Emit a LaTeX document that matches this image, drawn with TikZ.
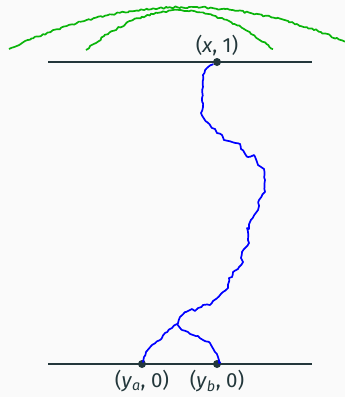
\documentclass[tikz,border=0pt]{standalone}
\usepackage{xcolor}
\usepackage{fontspec}
\setmainfont{Fira Sans}
\usepackage{tikz}
\usetikzlibrary{positioning, decorations.pathmorphing}
\definecolor{bgcol}{HTML}{FAFAFA}
\definecolor{darkteal}{HTML}{23373B}
\definecolor{pathgreen}{RGB}{10,180,10}
\definecolor{pathblue}{RGB}{0,0,255}

\tikzset{
    axisline/.style={draw=darkteal, line width=2pt},
    pt/.style={circle, fill=darkteal, inner sep=0pt, minimum size=8pt},
    ptlabel/.style={text=darkteal, font=\fontsize{20.5}{24}\selectfont, inner sep=2pt},
    walk/.style={draw=pathblue, line width=1.7pt, line join=round,
                 decorate, decoration={random steps, segment length=3pt, amplitude=0.7pt}},
    arcwalk/.style={draw=pathgreen, line width=1.7pt, line join=round,
                 decorate, decoration={random steps, segment length=2.5pt, amplitude=1pt}}
}

\begin{document}
\begin{tikzpicture}[x=1pt, y=-1pt]
    \pgfmathsetseed{11}
    \useasboundingbox[fill=bgcol] (0,0) rectangle (345,397);

    % the two levels
    \coordinate (t0) at (48,62);
    \coordinate (t1) at (312,62);
    \coordinate (b0) at (48,364);
    \coordinate (b1) at (312,364);
    \path[axisline] (t0) -- (t1);
    \path[axisline] (b0) -- (b1);

    % green arcs above
    \path[arcwalk] plot[domain=9:345, samples=15] (\x, {7+0.1356*((\x-185)/10)^2});
    \path[arcwalk] plot[domain=86:273, samples=9] (\x, {10+0.453*((\x-180)/10)^2});

    % points
    \node[pt] (top) at (217,62) {};
    \node[pt] (ya) at (142,364) {};
    \node[pt] (yb) at (217,364) {};
    \coordinate (branch) at (177,324);

    % blue paths
    \path[walk] (top) -- (207,68) -- (203,75) -- (203,87) -- (202,98) -- (203,107)
        -- (201,113) -- (207,122) -- (212,128) -- (215,129) -- (217,133) -- (222,135)
        -- (224,140) -- (232,142) -- (240,144) -- (241,149) -- (248,157) -- (254,155)
        -- (258,165) -- (264,169) -- (265,180) -- (265,192) -- (259,200) -- (258,210)
        -- (250,222) -- (249,229) -- (247,228) -- (249,243) -- (242,252) -- (241,258)
        -- (243,262) -- (238,269) -- (233,272) -- (232,277) -- (229,278) -- (228,288)
        -- (223,292) -- (213,301) -- (210,305) -- (203,305) -- (195,311) -- (192,309)
        -- (185,312) -- (180,317) -- (branch);
    \path[walk] (branch) -- (172,328) -- (165,333) -- (160,340) -- (152,345)
        -- (146,352) -- (143,362) -- (ya);
    \path[walk] (branch) -- (182,330) -- (188,332) -- (193,335) -- (198,336)
        -- (203,340) -- (210,343) -- (215,352) -- (218,357) -- (219,363) -- (yb);

    % labels
    \node[ptlabel, above=0pt of top] {(\textit{x}, 1)};
    \node[ptlabel, below=0pt of ya] {(\textit{y}\textsubscript{\textit{a}}, 0)};
    \node[ptlabel, below=0pt of yb] {(\textit{y}\textsubscript{\textit{b}}, 0)};
\end{tikzpicture}
\end{document}
